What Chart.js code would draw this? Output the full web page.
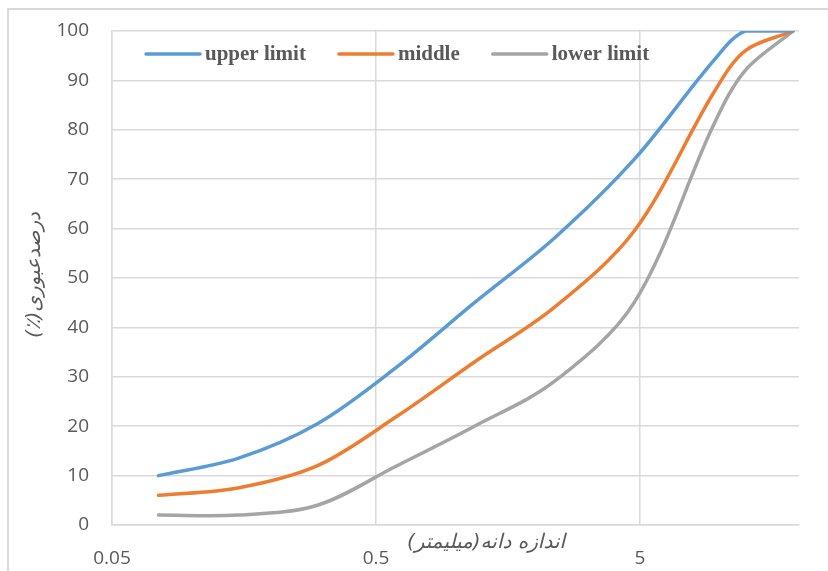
<!DOCTYPE html>
<html>
<head>
<meta charset="utf-8">
<script src="https://cdn.jsdelivr.net/npm/chart.js@4.4.1/dist/chart.umd.min.js"></script>
<style>
  html, body { margin: 0; padding: 0; background: #fff; overflow: hidden; }
  #wrap { position: relative; width: 828px; height: 571px; }
  #frame {
    position: absolute; left: 7px; top: 8px; width: 900px; height: 700px;
    border-left: 2px solid #d9d9d9; border-top: 2px solid #d9d9d9;
  }
  canvas { position: absolute; left: 0; top: 0; }
</style>
</head>
<body>
<div id="wrap">
  <div id="frame"></div>
  <canvas id="chart" width="828" height="571"></canvas>
</div>
<script>
// sieve sizes (mm) and passing percentages
const sieveSizes = [0.075, 0.15, 0.3, 0.6, 1.18, 2.36, 4.75, 9.5, 12.5, 19];
const upperLimit = [10, 13.5, 20.5, 32, 45, 58, 74, 94, 100, 100];
const middle = [6, 7.5, 12, 22, 33, 44, 59.5, 87.5, 96, 100];
const lowerLimit = [2, 2, 4, 12, 20, 29, 45, 81, 92, 100];

const seriesNames = ["upper limit", "middle", "lower limit"];
const xTicks = [0.05, 0.5, 5];
const xTitle = "اندازه دانه(میلیمتر)";
const yTitle = "درصدعبوری(٪)";

const COLORS = {
  upper: "#5b9bd5",
  middle: "#ed7d31",
  lower: "#a5a5a5",
  text: "#595959",
  grid: "#d9d9d9",
};

function toPoints(values) {
  return sieveSizes.map((s, i) => ({ x: s, y: values[i] }));
}

function lineSet(label, values, color) {
  return {
    label,
    data: toPoints(values),
    borderColor: color,
    backgroundColor: color,
    borderWidth: 3.5,
    borderCapStyle: "round",
    showLine: true,
    tension: 0.33,
    pointRadius: 0,
    pointHoverRadius: 0,
  };
}

// legend drawn inside the plot, Excel style
const insideLegend = {
  id: "insideLegend",
  afterDatasetsDraw(chart) {
    const { ctx, chartArea } = chart;
    let x = chartArea.left + 34;
    const y = chartArea.top + 23;
    ctx.save();
    ctx.font = "bold 21px 'Liberation Serif', 'Times New Roman', serif";
    ctx.textBaseline = "middle";
    ctx.textAlign = "left";
    chart.data.datasets.forEach((ds) => {
      ctx.strokeStyle = ds.borderColor;
      ctx.lineWidth = 3.5;
      ctx.lineCap = "round";
      ctx.beginPath();
      ctx.moveTo(x, y);
      ctx.lineTo(x + 54, y);
      ctx.stroke();
      x += 59;
      ctx.fillStyle = COLORS.text;
      ctx.fillText(ds.label, x, y + 1);
      x += ctx.measureText(ds.label).width + 33;
    });
    ctx.restore();
  },
};

// Persian axis titles, placed where the original has them
const axisTitles = {
  id: "axisTitles",
  afterDraw(chart) {
    const { ctx, chartArea } = chart;
    ctx.save();
    ctx.fillStyle = COLORS.text;
    ctx.font = "italic 20px 'DejaVu Sans', sans-serif";
    ctx.direction = "rtl";
    ctx.textAlign = "center";
    ctx.textBaseline = "middle";
    ctx.fillText(xTitle, 486, chartArea.bottom + 18);
    ctx.translate(35, 275);
    ctx.rotate(-Math.PI / 2);
    ctx.fillText(yTitle, 0, 0);
    ctx.restore();
  },
};

new Chart(document.getElementById("chart"), {
  type: "scatter",
  data: {
    datasets: [
      lineSet(seriesNames[0], upperLimit, COLORS.upper),
      lineSet(seriesNames[1], middle, COLORS.middle),
      lineSet(seriesNames[2], lowerLimit, COLORS.lower),
    ],
  },
  options: {
    responsive: false,
    animation: false,
    events: [],
    layout: { padding: { left: 0, top: 31, right: 29, bottom: 0 } },
    plugins: {
      legend: { display: false },
      tooltip: { enabled: false },
    },
    scales: {
      x: {
        type: "logarithmic",
        min: 0.05,
        max: 20,
        afterBuildTicks: (scale) => {
          scale.ticks = xTicks.map((v) => ({ value: v }));
        },
        afterFit: (scale) => {
          scale.height = 46;
          scale.paddingLeft = 0;
          scale.paddingRight = 0;
        },
        grid: { color: COLORS.grid, lineWidth: 1.5, drawTicks: false },
        border: { color: COLORS.grid, width: 1.5 },
        ticks: {
          color: COLORS.text,
          padding: 22,
          maxRotation: 0,
          autoSkip: false,
          font: { family: "'Open Sans', sans-serif", size: 19 },
          callback: (v) => String(v),
        },
      },
      y: {
        min: 0,
        max: 100,
        afterFit: (scale) => {
          scale.width = 112;
          scale.paddingTop = 0;
          scale.paddingBottom = 0;
        },
        grid: { color: COLORS.grid, lineWidth: 1.5, drawTicks: false },
        border: { color: COLORS.grid, width: 1.5 },
        ticks: {
          stepSize: 10,
          color: COLORS.text,
          padding: 23,
          font: { family: "'Open Sans', sans-serif", size: 19 },
        },
      },
    },
  },
  plugins: [insideLegend, axisTitles],
});
</script>
</body>
</html>
